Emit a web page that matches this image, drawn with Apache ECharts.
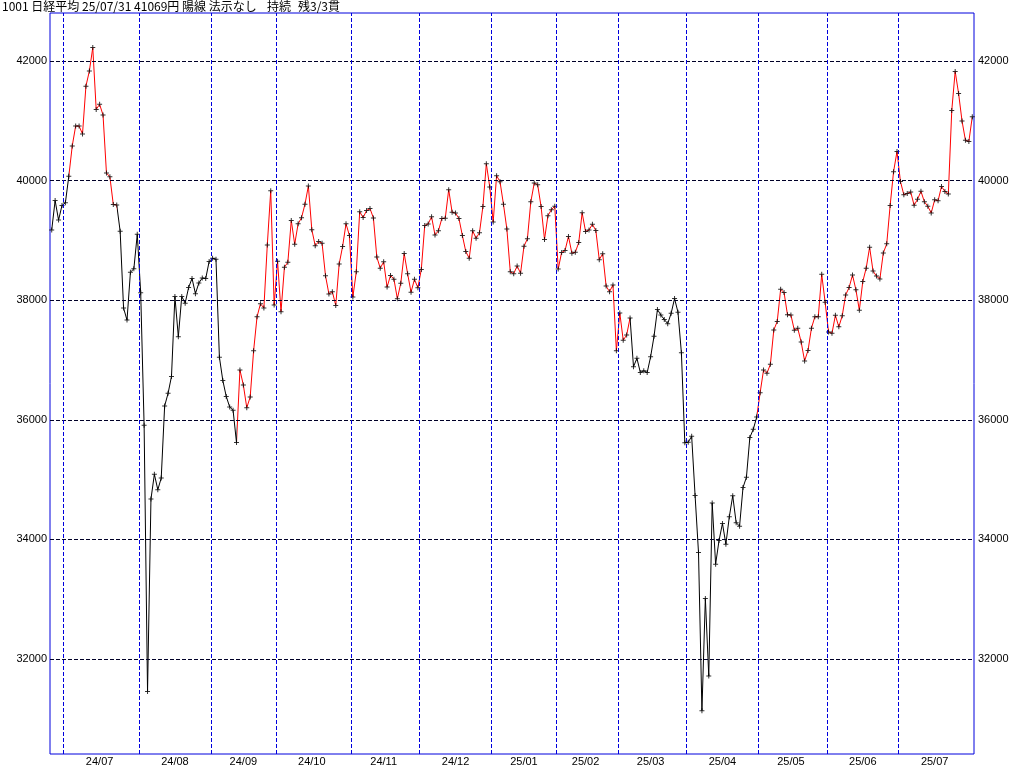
<!DOCTYPE html>
<html>
<head>
<meta charset="utf-8">
<script src="https://cdn.jsdelivr.net/npm/echarts@6/dist/echarts.min.js"></script>
<style>
html,body{margin:0;padding:0;background:#ffffff;}
#chart{width:1024px;height:767px;}
</style>
</head>
<body>
<div id="chart"></div>
<script>
// ---------------- data ----------------
const titleMain = '1001 日経平均 25/07/31 41069円 陽線 法示なし';
const titleState = '持続';
const titleRemain = '残3/3貫';

const monthLabels = ['24/06','24/07','24/08','24/09','24/10','24/11','24/12','25/01','25/02','25/03','25/04','25/05','25/06','25/07'];

const tradingDays = [
  [25,26,27,28],
  [1,2,3,4,5,8,9,10,11,12,16,17,18,19,22,23,24,25,26,29,30,31],
  [1,2,5,6,7,8,9,13,14,15,16,19,20,21,22,23,26,27,28,29,30],
  [2,3,4,5,6,9,10,11,12,13,17,18,19,20,24,25,26,27,30],
  [1,2,3,4,7,8,9,10,11,15,16,17,18,21,22,23,24,25,28,29,30,31],
  [1,5,6,7,8,11,12,13,14,15,18,19,20,21,22,25,26,27,28,29],
  [2,3,4,5,6,9,10,11,12,13,16,17,18,19,20,23,24,25,26,27,30],
  [6,7,8,9,10,14,15,16,17,20,21,22,23,24,27,28,29,30,31],
  [3,4,5,6,7,10,12,13,14,17,18,19,20,21,25,26,27,28],
  [3,4,5,6,7,10,11,12,13,14,17,18,19,21,24,25,26,27,28,31],
  [1,2,3,4,7,8,9,10,11,14,15,16,17,18,21,22,23,24,25,28,30],
  [1,2,7,8,9,12,13,14,15,16,19,20,21,22,23,26,27,28,29,30],
  [2,3,4,5,6,9,10,11,12,13,16,17,18,19,20,23,24,25,26,27,30],
  [1,2,3,4,7,8,9,10,11,14,15,16,17,18,22,23,24,25,28,29,30,31]
];

const closes = [
  [39173,39667,39341,39583],
  [39631,40074,40580,40913,40912,40780,41580,41831,42224,41190,41275,41097,40126,40063,39599,39594,39154,37869,37667,38468,38525,39101],
  [38126,35909,31458,34675,35089,34831,35025,36232,36442,36726,38062,37388,38062,37951,38211,38364,38110,38288,38371,38362,38647],
  [38700,38686,37047,36657,36391,36215,36159,35619,36833,36581,36203,36380,37155,37723,37940,37870,38925,39829,37919],
  [38651,37808,38552,38635,39332,38937,39277,39380,39605,39910,39180,38911,38981,38954,38411,38104,38143,37913,38605,38900,39277,39081],
  [38053,38474,39480,39381,39500,39533,39376,38721,38535,38642,38220,38414,38352,38026,38283,38780,38442,38134,38349,38208],
  [38513,39249,39276,39395,39091,39160,39367,39372,39849,39470,39457,39365,39081,38813,38701,39161,39036,39130,39568,40281,39894],
  [39307,40083,39981,39605,39190,38474,38444,38572,38451,38902,39027,39646,39958,39931,39565,39016,39414,39513,39572],
  [38520,38798,38831,39066,38787,38801,38963,39461,39149,39174,39270,39164,38678,38776,38237,38142,38256,37155],
  [37785,37331,37418,37704,36887,37028,36793,36819,36790,37053,37396,37845,37751,37677,37608,37780,38027,37799,37120,35617],
  [35624,35725,34735,33780,31136,33012,31714,34609,33586,33982,34267,33920,34377,34730,34280,34221,34868,35039,35705,35840,36045],
  [36452,36831,36780,36928,37503,37644,38183,38128,37755,37753,37498,37529,37299,36985,37160,37531,37724,37722,38432,37965],
  [37470,37446,37747,37554,37741,38089,38211,38421,38173,37834,38311,38536,38885,38488,38403,38354,38790,38942,39584,40150,40487],
  [39986,39762,39785,39810,39587,39688,39821,39646,39570,39459,39678,39663,39901,39819,39774,41171,41826,41456,40998,40674,40654,41069]
];

// index ranges (inclusive) where the line is drawn red (trend state)
const redRuns = [[5,19],[54,169],[206,269]];

const yTicks = [32000,34000,36000,38000,40000,42000];

// ---------------- styles / layout ----------------
const RED = '#ff0000';
const BLACK = '#000000';
const FRAME = '#0000dd';
const GRID_V = '#0000dd';
const GRID_H = '#000028';
const Y_MIN = 30411;
const Y_MAX = 42803;

// ---------------- build ----------------
const dates = [];
const values = [];
const monthStart = [];
const monthMid = new Map();
monthLabels.forEach((m, mi) => {
  const startIdx = dates.length;
  tradingDays[mi].forEach((d, di) => {
    dates.push(m + '/' + String(d).padStart(2, '0'));
    values.push(closes[mi][di]);
  });
  const endIdx = dates.length - 1;
  if (mi > 0) {
    monthStart.push(startIdx);
    monthMid.set(Math.floor((startIdx + endIdx) / 2), m);
  }
});
const n = values.length;

const pieces = [];
let lo = -1;
redRuns.forEach(([a, b]) => {
  pieces.push({ gt: lo, lte: a - 0.5, color: BLACK });
  pieces.push({ gt: a - 0.5, lte: b + 0.1, color: RED });
  lo = b + 0.1;
});
pieces.push({ gt: lo, lte: n + 1, color: BLACK });

const titleStyle = { fontSize: 12, fontWeight: 'normal', color: '#000', fontFamily: '"Noto Sans CJK JP", sans-serif' };
const axisFont = { fontSize: 11, color: '#000', fontFamily: '"Liberation Sans", Arial, sans-serif' };

const chart = echarts.init(document.getElementById('chart'), null, { renderer: 'canvas' });
chart.setOption({
  animation: false,
  backgroundColor: '#ffffff',
  title: [
    { text: titleMain, left: 2, top: 0, padding: 0, textStyle: titleStyle },
    { text: titleState, left: 267, top: 0, padding: 0, textStyle: titleStyle },
    { text: titleRemain, left: 298, top: 0, padding: 0, textStyle: titleStyle }
  ],
  grid: { left: 50, right: 50, top: 13, bottom: 13, show: true, borderColor: FRAME, borderWidth: 1, backgroundColor: 'transparent' },
  xAxis: [
    {
      type: 'category',
      data: dates,
      boundaryGap: true,
      axisLine: { show: false },
      axisTick: { show: false },
      splitLine: { show: false },
      axisLabel: Object.assign({
        interval: (i) => monthMid.has(i),
        formatter: (v, i) => monthMid.get(i) || '',
        margin: 2
      }, axisFont)
    },
    {
      // index scale whose band edges sit at half steps, used for month separators
      type: 'value', min: -0.5, max: n - 0.5, show: false
    }
  ],
  yAxis: [
    {
      type: 'value', min: Y_MIN, max: Y_MAX, position: 'left',
      axisLine: { show: false }, axisTick: { show: false }, splitLine: { show: false },
      axisLabel: Object.assign({ customValues: yTicks, margin: 3, formatter: (v) => String(v) }, axisFont)
    },
    {
      type: 'value', min: Y_MIN, max: Y_MAX, position: 'right',
      axisLine: { show: false }, axisTick: { show: false }, splitLine: { show: false },
      axisLabel: Object.assign({ customValues: yTicks, margin: 4, formatter: (v) => String(v) }, axisFont)
    }
  ],
  visualMap: {
    show: false,
    type: 'piecewise',
    seriesIndex: 0,
    dimension: 0,
    pieces: pieces
  },
  series: [
    {
      type: 'line',
      data: values,
      showSymbol: false,
      symbol: 'none',
      lineStyle: { width: 1 },
      silent: true,
      z: 3
    },
    {
      type: 'scatter',
      data: values,
      symbol: 'path://M2,0H3V5H2Z M0,2H5V3H0Z',
      symbolSize: 5,
      itemStyle: { color: '#000' },
      silent: true,
      z: 4,
      markLine: {
        silent: true,
        symbol: ['none', 'none'],
        label: { show: false },
        lineStyle: { color: GRID_H, type: [4, 2], width: 1 },
        data: yTicks.map(v => ({ yAxis: v }))
      }
    },
    {
      type: 'scatter',
      xAxisIndex: 1,
      yAxisIndex: 0,
      data: [],
      silent: true,
      z: 2,
      markLine: {
        silent: true,
        symbol: ['none', 'none'],
        label: { show: false },
        lineStyle: { color: GRID_V, type: [4, 2], width: 1 },
        data: monthStart.map(i => ({ xAxis: i - 0.5 }))
      }
    }
  ]
});
</script>
</body>
</html>
